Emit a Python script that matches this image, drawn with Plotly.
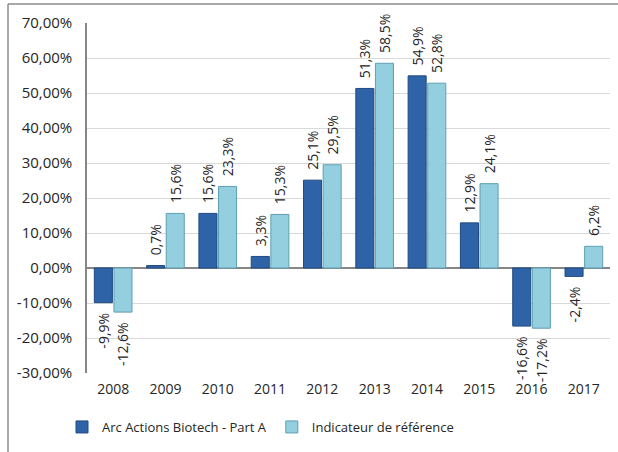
import plotly.graph_objects as go

years = ["2008", "2009", "2010", "2011", "2012", "2013", "2014", "2015", "2016", "2017"]
fund = [-9.9, 0.7, 15.6, 3.3, 25.1, 51.3, 54.9, 12.9, -16.6, -2.4]
bench = [-12.6, 15.6, 23.3, 15.3, 29.5, 58.5, 52.8, 24.1, -17.2, 6.2]
fund_name = "Arc Actions Biotech - Part A"
bench_name = "Indicateur de référence"
yticks = [-30, -20, -10, 0, 10, 20, 30, 40, 50, 60, 70]

NB = "\u00a0"


def fmt(v):
    s = ("%.1f%%" % v).replace(".", ",")
    # small padding between bar end and label (like the original offset)
    return NB * 2 + s if v >= 0 else s + NB * 2


def fmt_tick(v):
    return ("%.2f%%" % v).replace(".", ",")


FONT = "Open Sans"
TXT = "#262626"

fig = go.Figure()
fig.add_trace(go.Bar(
    x=years, y=fund, name=fund_name,
    marker=dict(color="#2F63A8", line=dict(color="#1F4A80", width=1)),
    text=[fmt(v) for v in fund], textposition="outside", textangle=-90,
    constraintext="none", cliponaxis=False,
    textfont=dict(family=FONT, size=14, color=TXT),
))
fig.add_trace(go.Bar(
    x=years, y=bench, name=bench_name,
    marker=dict(color="#93CFDE", line=dict(color="#5E9FB3", width=1)),
    text=[fmt(v) for v in bench], textposition="outside", textangle=-90,
    constraintext="none", cliponaxis=False,
    textfont=dict(family=FONT, size=14, color=TXT),
))

L, R, T, B = 87, 8, 23, 79
W, H = 618, 452
pw = W - L - R
ph = H - T - B

shapes = [
    dict(type="line", xref="paper", yref="paper",
         x0=(8 - L) / pw, x1=(W - L) / pw, y0=1 + (T - 4) / ph, y1=1 + (T - 4) / ph,
         line=dict(color="#8C8C8C", width=1.5)),
    dict(type="line", xref="paper", yref="paper",
         x0=(8 - L) / pw, x1=(8 - L) / pw, y0=1 + (T - 4) / ph, y1=-(B + 5) / ph,
         line=dict(color="#8C8C8C", width=1.5)),
]

fig.update_layout(
    width=W, height=H,
    margin=dict(l=L, r=R, t=T, b=B),
    paper_bgcolor="white", plot_bgcolor="white",
    barmode="group", bargap=0.25, bargroupgap=0.08,
    font=dict(family=FONT, size=14, color=TXT),
    showlegend=True,
    legend=dict(orientation="h", x=(62 - L) / pw, xanchor="left",
                y=-(427 - (H - B)) / ph, yanchor="middle",
                font=dict(family=FONT, size=13, color=TXT),
                itemwidth=30, traceorder="normal"),
    xaxis=dict(showgrid=False, showline=False, ticks="", ticklabelstandoff=6,
               tickfont=dict(family=FONT, size=14, color=TXT)),
    yaxis=dict(range=[-30, 70], tickvals=yticks, ticktext=[fmt_tick(v) for v in yticks],
               showgrid=True, gridcolor="#D9D9D9", gridwidth=1,
               zeroline=True, zerolinecolor="#868686", zerolinewidth=1.5,
               showline=True, linecolor="#868686", linewidth=1.5,
               ticks="", ticklabelstandoff=10,
               tickfont=dict(family=FONT, size=15, color=TXT)),
    shapes=shapes,
)

fig.write_html("out.html", config={"displayModeBar": False},
               post_script="document.body.style.margin='0';")
